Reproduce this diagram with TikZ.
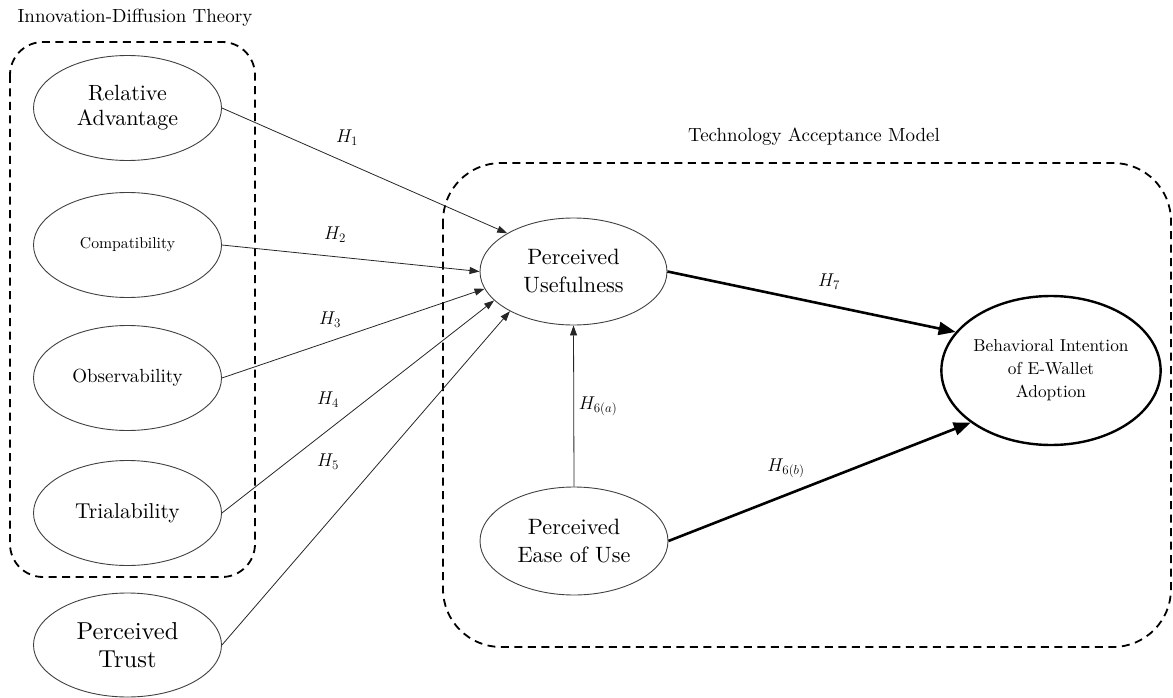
\documentclass[tikz,border=0pt]{standalone}
\usepackage{fix-cm}
\usepackage{fontspec}
\setmainfont{lmroman10-regular.otf}[ItalicFont=lmroman10-italic.otf, BoldFont=lmroman10-bold.otf]
\usetikzlibrary{shapes.geometric,arrows.meta}

\tikzset{
  construct/.style={ellipse, draw=black!75, line width=0.9pt, inner sep=0pt,
    minimum width=188pt, minimum height=105pt, align=center},
  outcome/.style={construct, draw=black, line width=2.4pt,
    minimum width=196pt, minimum height=149pt},
  link/.style={draw=black!85, line width=0.8pt, -{Triangle[length=10pt,width=7pt]}},
  strong/.style={draw=black, line width=2.6pt, -{Triangle[length=17pt,width=13pt]}},
  groupbox/.style={draw=black, line width=1.8pt, dash pattern=on 8pt off 5.5pt},
  hyp/.style={font=\fontsize{18.5}{21}\selectfont},
  caption/.style={font=\fontsize{19}{23}\selectfont},
}
\newcommand{\tx}[2]{\fontsize{#1}{#2}\selectfont}

\begin{document}
\begin{tikzpicture}[x=1pt, y=-1pt]
\useasboundingbox (0,0) rectangle (1173,698);

% dashed frames of the two theories
\draw[groupbox, rounded corners=33pt] (10,42) rectangle (255,577);
\draw[groupbox, rounded corners=58pt] (443,163) rectangle (1171,647);
\node[caption] (idt) at (135,18) {Innovation-Diffusion Theory};
\node[caption] (tam) at (814,137) {Technology Acceptance Model};

% constructs
\node[construct, font=\tx{22}{25}] (ra) at (127.5,108) {Relative\\Advantage};
\node[construct, font=\tx{15.7}{19}] (co) at (127.5,245) {Compatibility};
\node[construct, font=\tx{19}{22}] (ob) at (127.5,378) {Observability};
\node[construct, font=\tx{21.5}{26}] (tr) at (127.5,513) {Trialability};
\node[construct, font=\tx{24.5}{28}, minimum height=104pt] (pt) at (127.5,645) {Perceived\\Trust};
\node[construct, font=\tx{22.2}{28}, minimum width=187pt, minimum height=107pt] (pu) at (573.5,271.5) {Perceived\\Usefulness};
\node[construct, font=\tx{22.2}{28}, minimum height=108pt] (pe) at (574,541) {Perceived\\Ease of Use};
\node[outcome, font=\tx{17.3}{23}] (bi) at (1051,370.5) {Behavioral Intention\\of E-Wallet\\Adoption};

% hypothesised paths
\draw[link] (ra.east) -- (pu.150);
\draw[link] (co.east) -- (pu.180);
\draw[link] (ob.east) -- (pu.191);
\draw[link] (tr.east) -- (pu.200);
\draw[link] (pt.east) -- (pu.212);
\draw[link] (pe.north) -- (pu.south);
\draw[strong] (pu.east) -- (bi.158);
\draw[strong] (pe.east) -- (bi.213);

% hypothesis labels
\node[hyp] (h1) at (347,138) {$H_1$};
\node[hyp] (h2) at (335,235) {$H_2$};
\node[hyp] (h3) at (330,320) {$H_3$};
\node[hyp] (h4) at (328,400) {$H_4$};
\node[hyp] (h5) at (328,462) {$H_5$};
\node[hyp] (h6a) at (598,406) {$H_{6(a)}$};
\node[hyp] (h6b) at (786,468) {$H_{6(b)}$};
\node[hyp] (h7) at (829,282) {$H_7$};
\end{tikzpicture}
\end{document}
